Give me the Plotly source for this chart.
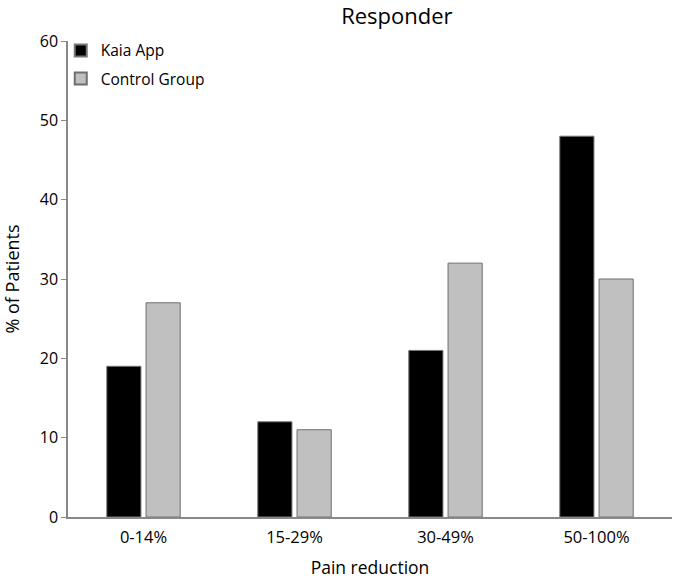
import plotly.graph_objects as go

categories = ["0-14%", "15-29%", "30-49%", "50-100%"]
kaia = [19, 12, 21, 48]
control = [27, 11, 32, 30]
y_ticks = [0, 10, 20, 30, 40, 50, 60]

font = "Open Sans, DejaVu Sans, sans-serif"

fig = go.Figure()
fig.add_trace(go.Bar(x=categories, y=kaia, name="Kaia App", legendgroup="a",
                     marker=dict(color="#000000", line=dict(color="#777777", width=1))))
fig.add_trace(go.Bar(x=categories, y=control, name="Control Group", legendgroup="b",
                     marker=dict(color="#c0c0c0", line=dict(color="#6e6e6e", width=1))))

fig.update_layout(
    width=685, height=579,
    margin=dict(l=68, r=13, t=41, b=62),
    paper_bgcolor="white", plot_bgcolor="white",
    font=dict(family=font, size=16.5, color="#000000"),
    title=dict(text="Responder", x=373 / 685, xanchor="center", xref="paper",
               yref="container", y=1 - 16 / 579, yanchor="middle",
               font=dict(size=22, family=font)),
    barmode="group", bargap=0.48, bargroupgap=0.13,
    legend=dict(x=-0.012, y=1.015, xanchor="left", yanchor="top",
                bgcolor="rgba(0,0,0,0)", font=dict(size=15.5),
                traceorder="grouped", tracegroupgap=5,
                itemsizing="constant"),
    xaxis=dict(showline=True, linecolor="#888888", linewidth=1.5, ticks="",
               automargin=False, ticklabelstandoff=4,
               title=dict(text="Pain reduction", standoff=27, font=dict(size=17.5)),
               tickfont=dict(size=16.5)),
    yaxis=dict(range=[0, 60], tickvals=y_ticks, showgrid=False, zeroline=False,
               automargin=False,
               showline=True, linecolor="#888888", linewidth=1.5,
               ticks="outside", ticklen=5, tickcolor="#888888",
               title=dict(text="% of Patients", standoff=15, font=dict(size=18)),
               tickfont=dict(size=16)),
)

fig.write_html("out.html", config={"displayModeBar": False},
               post_script="document.body.style.margin='0';")
